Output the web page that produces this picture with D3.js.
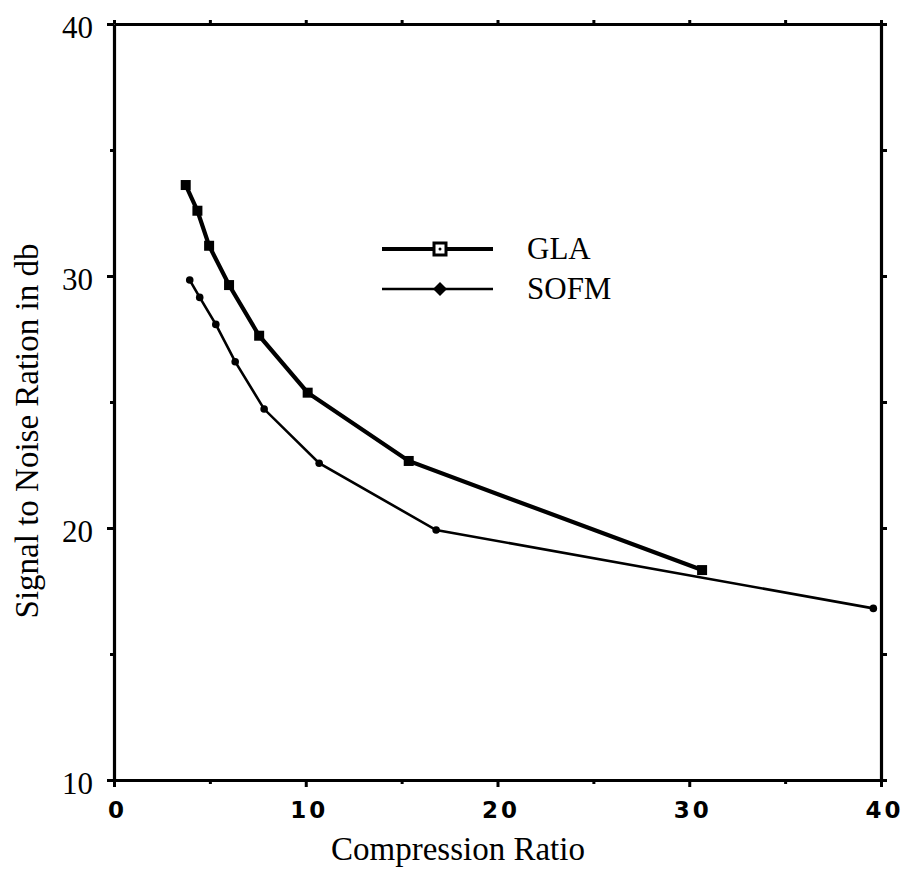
<!DOCTYPE html>
<html>
<head>
<meta charset="utf-8">
<script src="https://cdn.jsdelivr.net/npm/d3@7"></script>
<style>
  body { margin: 0; background: #fff; }
  svg { display: block; }
</style>
</head>
<body>
<div id="chart"></div>
<script>
// data
var glaRatio = [3.74, 4.35, 4.96, 6.0, 7.57, 10.1, 15.37, 30.67];
var glaSnr   = [33.61, 32.59, 31.2, 29.64, 27.63, 25.37, 22.66, 18.33];
var sofmRatio = [3.95, 4.47, 5.31, 6.32, 7.83, 10.7, 16.8, 39.6];
var sofmSnr   = [29.84, 29.15, 28.08, 26.6, 24.72, 22.57, 19.92, 16.81];
var xTicks = [0, 10, 20, 30, 40];
var yTicks = [10, 20, 30, 40];
var xMinor = [5, 15, 25, 35];
var yMinor = [15, 25, 35];

var W = 911, H = 877;
var margin = {top: 24, right: 30, bottom: 97, left: 114},
    width = W - margin.left - margin.right,
    height = H - margin.top - margin.bottom;

var svg = d3.select("#chart")
  .append("svg")
    .attr("width", W)
    .attr("height", H)
  .append("g")
    .attr("transform", "translate(" + margin.left + "," + margin.top + ")");

var x = d3.scaleLinear().domain([0, 40]).range([0, width]);
var y = d3.scaleLinear().domain([10, 40]).range([height, 0]);

// frame axes with outward ticks
function styleAxis(g) {
  g.selectAll("path, line").attr("stroke", "#000").attr("stroke-width", 3);
  g.select(".domain").attr("stroke-width", 3.2);
}

var bottom = svg.append("g")
  .attr("transform", "translate(0," + height + ")")
  .call(d3.axisBottom(x).tickValues(xTicks).tickSize(7).tickSizeOuter(0)
    .tickFormat(d3.format("d")));
bottom.call(styleAxis);
bottom.selectAll("text")
  .attr("y", 38)
  .attr("dy", 0)
  .attr("dx", 3)
  .style("font-family", "'DejaVu Sans', sans-serif")
  .style("font-size", "23px")
  .style("font-weight", "bold")
  .style("letter-spacing", "3px");

svg.append("g")
  .attr("transform", "translate(0," + height + ")")
  .call(d3.axisBottom(x).tickValues(xMinor).tickSize(4).tickFormat(""))
  .call(styleAxis)
  .select(".domain").remove();

var left = svg.append("g")
  .call(d3.axisLeft(y).tickValues(yTicks).tickSize(7).tickSizeOuter(0));
left.call(styleAxis);
left.selectAll("text")
  .attr("x", -21)
  .attr("dy", "0.45em")
  .style("font-family", "'Liberation Serif', serif")
  .style("font-size", "31px");

svg.append("g")
  .call(d3.axisLeft(y).tickValues(yMinor).tickSize(4).tickFormat(""))
  .call(styleAxis)
  .select(".domain").remove();

svg.append("g")
  .call(d3.axisTop(x).tickValues(xTicks.concat(xMinor)).tickSize(4).tickSizeOuter(0).tickFormat(""))
  .call(styleAxis);

svg.append("g")
  .attr("transform", "translate(" + width + ",0)")
  .call(d3.axisRight(y).tickValues(yTicks.concat(yMinor)).tickSize(6).tickSizeOuter(0).tickFormat(""))
  .call(styleAxis);

// axis titles
svg.append("text")
  .attr("x", 458 - margin.left)
  .attr("y", 860 - margin.top)
  .attr("text-anchor", "middle")
  .style("font-family", "'Liberation Serif', serif")
  .style("font-size", "33px")
  .text("Compression Ratio");

svg.append("text")
  .attr("transform", "translate(" + (38 - margin.left) + "," + (431 - margin.top) + ") rotate(-90)")
  .attr("text-anchor", "middle")
  .style("font-family", "'Liberation Serif', serif")
  .style("font-size", "33px")
  .text("Signal to Noise Ration in db");

// series
var gla = glaRatio.map(function(d, i) { return {r: d, s: glaSnr[i]}; });
var sofm = sofmRatio.map(function(d, i) { return {r: d, s: sofmSnr[i]}; });

var line = d3.line()
  .x(function(d) { return x(d.r); })
  .y(function(d) { return y(d.s); });

svg.append("path")
  .datum(sofm)
  .attr("fill", "none")
  .attr("stroke", "#000")
  .attr("stroke-width", 2.6)
  .attr("d", line);

svg.selectAll(".sofm-pt")
  .data(sofm)
  .enter().append("circle")
    .attr("class", "sofm-pt")
    .attr("cx", function(d) { return x(d.r); })
    .attr("cy", function(d) { return y(d.s); })
    .attr("r", 3.8)
    .attr("fill", "#000");

svg.append("path")
  .datum(gla)
  .attr("fill", "none")
  .attr("stroke", "#000")
  .attr("stroke-width", 4.2)
  .attr("d", line);

svg.selectAll(".gla-pt")
  .data(gla)
  .enter().append("rect")
    .attr("class", "gla-pt")
    .attr("x", function(d) { return x(d.r) - 5; })
    .attr("y", function(d) { return y(d.s) - 5; })
    .attr("width", 10)
    .attr("height", 10)
    .attr("fill", "#000");

// legend
var legend = svg.append("g")
  .attr("transform", "translate(" + (382 - margin.left) + "," + (249 - margin.top) + ")");

legend.append("line")
  .attr("x1", 0).attr("x2", 111).attr("y1", 0).attr("y2", 0)
  .attr("stroke", "#000").attr("stroke-width", 4);
legend.append("rect")
  .attr("x", 52).attr("y", -6).attr("width", 12).attr("height", 12)
  .attr("fill", "#fff").attr("stroke", "#000").attr("stroke-width", 3);
legend.append("circle")
  .attr("cx", 58).attr("cy", 0).attr("r", 1.5).attr("fill", "#000");
legend.append("text")
  .attr("x", 145).attr("y", 10)
  .style("font-family", "'Liberation Serif', serif")
  .style("font-size", "31px")
  .text("GLA");

legend.append("line")
  .attr("x1", 0).attr("x2", 111).attr("y1", 40).attr("y2", 40)
  .attr("stroke", "#000").attr("stroke-width", 2.4);
legend.append("path")
  .attr("d", "M58,33 L65,40 L58,47 L51,40 Z")
  .attr("fill", "#000");
legend.append("text")
  .attr("x", 145).attr("y", 50)
  .style("font-family", "'Liberation Serif', serif")
  .style("font-size", "31px")
  .text("SOFM");
</script>
</body>
</html>
